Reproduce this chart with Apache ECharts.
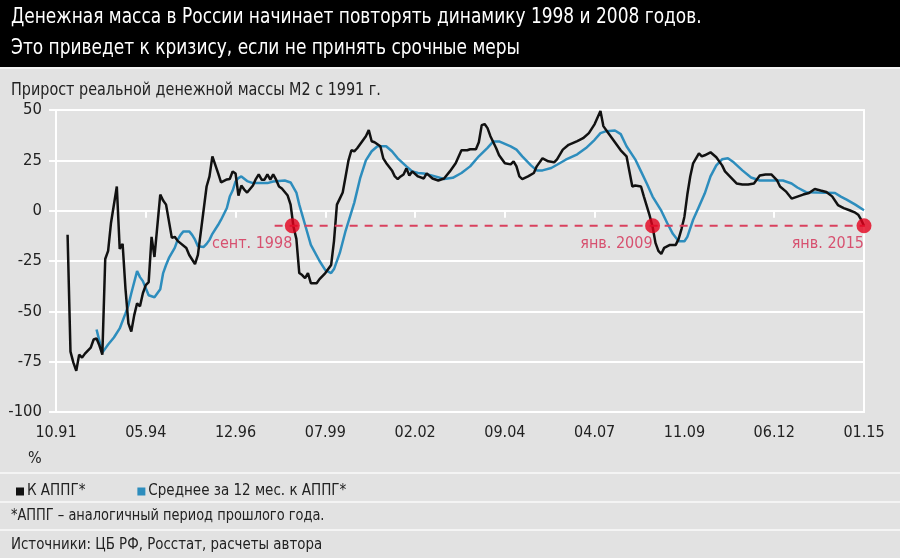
<!DOCTYPE html>
<html>
<head>
<meta charset="utf-8">
<script src="https://cdn.jsdelivr.net/npm/echarts@6/dist/echarts.min.js"></script>
<style>
html,body{margin:0;padding:0;background:#e2e2e2;}
#chart{width:900px;height:558px;}
</style>
</head>
<body>
<div id="chart"></div>
<script>
// ---- DATA ----
// x = months since Oct 1991 (0 = 10.91, 279 = 01.15)
const tickMonths = [0, 31, 62, 93, 124, 155, 186, 217, 248, 279];
const yTicks = [50, 25, 0, -25, -50, -75, -100];

const blackMonths = [4,5,6,7,8,9,10,12,13,14,15,16,17,18,19,21,22,23,24,25,26,27,28,29,30,31,32,33,34,36,37,38,40,41,42,45,46,48,49,52,53,54,56,57,59,60,61,62,63,64,65,66,68,69,70,71,72,73,74,75,76,77,78,80,81,82,83,84,85,86,87,88,90,91,93,95,96,97,98,99,100,101,102,103,104,106,107,108,109,110,111,112,113,114,116,117,118,119,120,121,122,123,125,127,128,130,132,134,136,138,140,142,143,145,146,147,148,149,150,152,153,155,157,158,159,160,161,163,165,166,168,170,172,173,175,177,180,182,184,186,188,189,191,193,195,197,199,200,202,203,205,206,207,208,209,210,212,214,215,216,217,218,219,220,222,223,224,226,228,230,231,233,235,237,239,241,243,245,247,249,250,252,254,256,258,260,262,264,266,268,270,272,274,276,277,278,279];
const blackValues = [-12,-70,-75.5,-79.5,-71.5,-73,-71,-68,-64,-63.5,-67,-71.5,-24,-20,-6,12,-19,-16.5,-39,-56,-60,-52,-46,-47.5,-41,-37,-35.5,-13,-23,8,5,3,-13.5,-13,-15,-18.5,-22,-26.5,-22,12,17,27,18.5,14,15.5,15.7,19.5,18.5,7.5,12.5,10.5,9,12.5,15.7,18,15.4,15.4,18,15.4,18,15.4,12,11,7.5,3,-8,-14,-31,-32,-33.5,-31,-36,-36,-34,-31,-27,-15,3,6,9,17,25,30,29.5,31,35,37,40,34.5,34,33,32,26,23.7,20,17,15.7,17,18,21,17.5,19.5,17,16,18.5,16,15,16,19.5,23.5,30,30,30.5,30.5,34,42.5,43,41,37,31,27.5,23.5,23,24.5,22,17,15.7,17,18.7,22,26,24.5,24,25.5,30.3,32.7,34.5,36,38.5,43,49.5,42,38,34,30,27,12,12.5,12,7,-2.5,-8,-16,-20,-21.5,-18.5,-17,-17,-14,-9,-3,8,17,23.5,28.5,27,27.5,29,26.5,22.5,19.5,16.5,13.5,13,13,13.5,17.5,18,18,15,12,9.6,6,7,8,8.8,10.8,10,9.3,7.1,2.8,1.3,0.2,-1,-2,-4.5,-7.5];

const blueMonths = [14,16,18,20,22,24,25,26,28,29,30,31,32,34,35,36,37,38,39,41,42,43,44,46,47,48,49,51,52,53,54,56,57,59,60,61,62,63,64,66,68,73,75,79,81,83,84,86,88,91,93,95,96,98,100,103,105,107,109,111,114,116,118,121,123,125,127,130,134,137,140,143,146,149,151,153,157,159,161,164,166,168,171,173,176,180,183,186,188,190,193,195,197,200,202,204,206,209,211,213,215,217,218,220,222,224,226,228,230,232,234,237,240,243,247,251,254,256,259,263,269,271,273,276,279];
const blueValues = [-59,-70.5,-66.5,-63,-58.5,-51,-47,-41,-30,-33,-35,-38.5,-42,-43,-41,-39,-31,-27,-23.5,-18.5,-14.5,-12,-10.3,-10.3,-12,-14.4,-17.7,-18,-16.5,-14.5,-11.5,-7,-4.5,1.3,7,10,14.5,16.2,17,14.7,13.7,13.7,14.5,15,14,9,3,-7,-17,-25,-29.5,-31,-29,-21,-10,4,16,25,29.5,32,32,29.5,26,22,19.5,18.7,18.5,17.4,15.7,16.3,18.7,22,27,31.2,34.4,34.4,31.9,30.3,27,22.5,20,20,21.2,22.8,25.3,28,31.1,35.2,38.5,39.5,39.8,38,32,25.5,19.5,13.5,7,0,-6,-11.5,-15.2,-15.2,-13,-4.5,2,8.5,17,22.5,25.5,26,24,20,16.5,15,15,15,13.5,11.5,9.2,9,8.8,7,5.5,3,0.2];

const crisisMonths = [81.6, 206, 279];
const crisisLabels = ['сент. 1998', 'янв. 2009', 'янв. 2015'];
const thresholdLevel = -7.5;
const thresholdSpan = [75.5, 286];

const seriesNames = ['К АППГ*', 'Среднее за 12 мес. к АППГ*'];
const titleLines = ['Денежная масса в России начинает повторять динамику 1998 и 2008 годов.',
                    'Это приведет к кризису, если не принять срочные меры'];
const subtitle = 'Прирост реальной денежной массы М2 с 1991 г.';
const unitLabel = '%';
const footnote = '*АППГ – аналогичный период прошлого года.';
const sources = 'Источники: ЦБ РФ, Росстат, расчеты автора';

// ---- CHART ----
const FONT = "'Liberation Sans Narrow','Arial Narrow','DejaVu Sans Condensed',sans-serif";
const chart = echarts.init(document.getElementById('chart'));

function monthLabel(m) {
  const k = 9 + Math.round(m);
  const mm = (k % 12) + 1;
  const yy = (1991 + Math.floor(k / 12)) % 100;
  return String(mm).padStart(2, '0') + '.' + String(yy).padStart(2, '0');
}

const pair = (xs, ys) => xs.map((x, i) => [x, ys[i]]);

function txt(text, x, y, size, color, sx) {
  return { type: 'text', x: x, y: y, scaleX: sx, z: 10,
    style: { text: text, fill: color, font: size + 'px ' + FONT, textVerticalAlign: 'middle' } };
}

chart.setOption({
  animation: false,
  backgroundColor: '#e2e2e2',
  textStyle: { fontFamily: FONT },
  grid: { left: 56, right: 36, top: 110, bottom: 146, show: true, borderColor: '#ffffff', borderWidth: 2, backgroundColor: 'transparent' },
  xAxis: {
    type: 'value', min: 0, max: 279, interval: 31,
    axisLine: { show: true, lineStyle: { color: '#ffffff', width: 2 } },
    axisTick: { show: true, length: 7, lineStyle: { color: '#ffffff', width: 2 } },
    splitLine: { show: false },
    axisLabel: { color: '#222', fontSize: 16, fontFamily: FONT, margin: 13, formatter: v => monthLabel(v) }
  },
  yAxis: {
    type: 'value', min: -100, max: 50, interval: 25,
    axisLine: { show: true, lineStyle: { color: '#ffffff', width: 2 } },
    axisTick: { show: true, length: 7, lineStyle: { color: '#ffffff', width: 2 } },
    splitLine: { show: true, lineStyle: { color: '#ffffff', width: 2 } },
    axisLabel: { color: '#222', fontSize: 16.5, fontFamily: FONT, margin: 14,
      formatter: v => yTicks.includes(v) ? String(v) : '' }
  },
  legend: {
    left: 11, top: 479, icon: 'rect', itemWidth: 8, itemHeight: 8, itemGap: 52,
    data: seriesNames,
    textStyle: { color: '#222', fontSize: 15, fontFamily: FONT, padding: [0, 0, 0, -2] }
  },
  series: [
    { name: seriesNames[1], type: 'line', data: pair(blueMonths, blueValues), showSymbol: false,
      lineStyle: { color: '#2d8dbd', width: 2.5 }, itemStyle: { color: '#2d8dbd' }, z: 2 },
    { name: seriesNames[0], type: 'line', data: pair(blackMonths, blackValues), showSymbol: false,
      lineStyle: { color: '#111111', width: 2.5 }, itemStyle: { color: '#111111' }, z: 3 },
    { name: 'threshold', type: 'line', clip: false, silent: true, showSymbol: false,
      data: thresholdSpan.map(m => [m, thresholdLevel]),
      lineStyle: { color: '#d9405e', width: 2, type: [8, 7] }, z: 4 },
    { name: 'crisis', type: 'scatter', clip: false, silent: true, symbolSize: 15,
      data: crisisMonths.map((m, i) => ({ value: [m, thresholdLevel], name: crisisLabels[i] })),
      itemStyle: { color: '#e3001b' }, z: 5,
      label: { show: true, position: 'inside', align: 'right', offset: [0, 18],
        formatter: p => p.name, color: '#d42c52', fontSize: 16, fontFamily: FONT } }
  ],
  graphic: [
    { type: 'rect', shape: { x: 0, y: 0, width: 900, height: 67 }, style: { fill: '#000' }, z: 0 },
    { type: 'rect', shape: { x: 0, y: 67, width: 900, height: 2 }, style: { fill: '#f4f4f4' }, z: 0 },
    txt(titleLines[0], 11, 18, 21, '#fff', 0.90),
    txt(titleLines[1], 11, 49, 21, '#fff', 0.90),
    txt(subtitle, 11, 91, 17, '#222', 0.94),
    txt(unitLabel, 28, 459, 16, '#222', 1),
    { type: 'rect', shape: { x: 0, y: 472, width: 900, height: 2 }, style: { fill: '#f4f4f4' } },
    { type: 'rect', shape: { x: 0, y: 501, width: 900, height: 2 }, style: { fill: '#f4f4f4' } },
    { type: 'rect', shape: { x: 0, y: 529, width: 900, height: 2 }, style: { fill: '#f4f4f4' } },
    txt(footnote, 11, 516, 16, '#222', 0.90),
    txt(sources, 11, 545, 16, '#222', 0.93)
  ]
});
</script>
</body>
</html>
